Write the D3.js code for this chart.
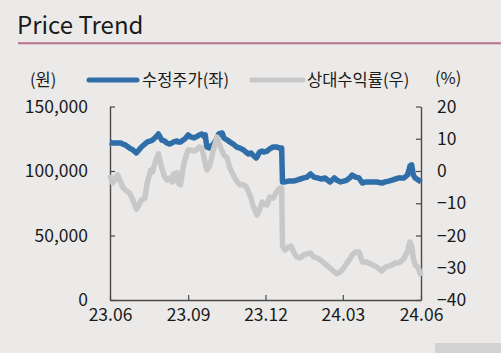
<!DOCTYPE html>
<html>
<head>
<meta charset="utf-8">
<script src="https://cdn.jsdelivr.net/npm/d3@7"></script>
<style>
  body { margin: 0; background: #ebeae8; }
  svg { display: block; font-family: "Noto Sans CJK KR", "Noto Sans", sans-serif; }
</style>
</head>
<body>
<div class="chart"></div>
<script>
// Data
var dates = ["2023-06-01","2023-06-04","2023-06-08","2023-06-10","2023-06-14","2023-06-16","2023-06-19","2023-06-24","2023-06-28",
  "2023-07-02","2023-07-05","2023-07-08","2023-07-12","2023-07-15","2023-07-19","2023-07-21","2023-07-25","2023-07-28",
  "2023-08-01","2023-08-04","2023-08-07","2023-08-10","2023-08-13","2023-08-15","2023-08-19","2023-08-20","2023-08-23","2023-08-26","2023-08-28",
  "2023-09-01","2023-09-04","2023-09-08","2023-09-12","2023-09-14","2023-09-17","2023-09-19","2023-09-21","2023-09-23","2023-09-26","2023-09-28","2023-09-30",
  "2023-10-03","2023-10-05","2023-10-07","2023-10-11","2023-10-13","2023-10-17","2023-10-20","2023-10-24","2023-10-28",
  "2023-11-01","2023-11-05","2023-11-08","2023-11-11","2023-11-14","2023-11-16","2023-11-20","2023-11-21","2023-11-24","2023-11-27","2023-11-29",
  "2023-12-03","2023-12-06","2023-12-10","2023-12-14","2023-12-18","2023-12-20","2023-12-21","2023-12-24","2023-12-28","2023-12-31",
  "2024-01-03","2024-01-07","2024-01-11","2024-01-15","2024-01-19","2024-01-23","2024-01-27","2024-01-31",
  "2024-02-05","2024-02-09","2024-02-15","2024-02-20","2024-02-23","2024-02-27",
  "2024-03-02","2024-03-06","2024-03-10","2024-03-12","2024-03-16","2024-03-20","2024-03-24","2024-03-28","2024-03-31",
  "2024-04-05","2024-04-10","2024-04-16","2024-04-20","2024-04-24","2024-04-28",
  "2024-05-02","2024-05-06","2024-05-09","2024-05-12","2024-05-16","2024-05-18","2024-05-19","2024-05-21","2024-05-23","2024-05-25","2024-05-29",
  "2024-06-01"];

// 수정주가 (원), left axis
var price = [122500,121700,121700,121700,121700,120900,120200,117800,116300,
  114000,116300,118600,120900,122500,123300,124000,126400,128700,
  124000,123300,121700,120900,121700,122500,123300,122500,122500,124000,124800,
  127900,126400,125600,127100,127900,128700,127100,127900,118600,117800,119400,120200,
  123300,125600,128700,129500,125600,124000,122500,120900,118600,
  117800,116300,114700,113200,114000,112400,110100,110900,114700,115500,114700,
  115500,117100,118600,118600,117800,117800,91500,91500,92200,92200,
  92200,93000,93800,94600,95300,97700,95300,94600,
  93800,94600,91500,94600,93000,91500,
  92200,93000,95300,96900,95300,94600,90700,91500,91500,
  91500,91500,90700,91500,92200,93000,
  93800,94600,94600,94600,96900,100800,103900,104700,96900,94600,93000,
  91500];

// 상대수익률 (%), right axis
var relReturn = [-1.2,-3.7,-2.2,-1.2,-3.7,-5.0,-5.9,-6.8,-9.0,
  -11.8,-10.5,-9.0,-8.4,-3.4,0.3,-0.3,3.4,5.3,
  0.9,-1.6,-2.8,-2.2,-3.4,-0.9,-0.6,-3.7,-4.3,0.9,3.4,
  6.5,6.5,6.2,6.8,7.4,7.1,5.0,2.5,0.3,1.6,3.4,5.9,
  8.7,10.5,8.7,6.2,5.0,4.0,0.9,-1.2,-3.1,
  -4.3,-4.3,-4.7,-6.5,-8.4,-10.5,-13.0,-13.6,-12.1,-9.6,-10.2,
  -10.5,-8.1,-8.4,-6.5,-5.3,-5.3,-23.3,-24.5,-23.6,-23.3,
  -25.1,-26.7,-27.0,-26.0,-25.7,-25.4,-26.7,-27.0,
  -27.9,-28.8,-30.1,-31.3,-31.9,-31.3,
  -30.1,-28.5,-27.0,-26.0,-25.1,-25.1,-28.2,-28.2,-28.5,
  -29.1,-29.8,-31.0,-29.8,-29.5,-29.1,
  -28.5,-28.5,-27.9,-27.0,-25.1,-22.9,-22.0,-23.3,-27.0,-29.1,-30.1,
  -32.6];

var leftTicks = [0, 50000, 100000, 150000];
var rightTicks = [20, 10, 0, -10, -20, -30, -40];
var xTicks = ["2023-06-01","2023-09-01","2023-12-01","2024-03-01","2024-06-01"];

var width = 501, height = 353;
var margin = {top: 106.5, right: 80, bottom: 53, left: 110};

var parse = d3.timeParse("%Y-%m-%d");
var rows = dates.map(function(d, i) {
  return {date: parse(d), price: price[i], rel: relReturn[i]};
});

var svg = d3.select("div.chart").append("svg")
    .attr("width", width)
    .attr("height", height);

// bottom-right grey corner piece
svg.append("rect")
    .attr("x", 435).attr("y", 343)
    .attr("width", 66).attr("height", 10)
    .attr("fill", "#d3d3d3");

// title
svg.append("text")
    .attr("x", 17).attr("y", 34)
    .attr("font-size", 24)
    .attr("fill", "#1a1a1a")
    .text("Price Trend");

svg.append("line")
    .attr("x1", 18).attr("x2", width)
    .attr("y1", 43.3).attr("y2", 43.3)
    .attr("stroke", "#b9728a")
    .attr("stroke-width", 2);

// scales
var x = d3.scaleTime()
    .domain([parse(xTicks[0]), parse(xTicks[4])])
    .range([margin.left, width - margin.right]);

var yLeft = d3.scaleLinear()
    .domain([0, 150000])
    .range([height - margin.bottom, margin.top]);

var yRight = d3.scaleLinear()
    .domain([-40, 20])
    .range([height - margin.bottom, margin.top]);

var axisColor = "#4a4a4a";
var fmt = d3.format(",");

// axes
var gx = svg.append("g")
    .attr("transform", "translate(0," + (height - margin.bottom) + ")")
    .call(d3.axisBottom(x)
      .tickValues(xTicks.map(parse))
      .tickSize(-5)
      .tickSizeOuter(0)
      .tickFormat(d3.timeFormat("%y.%m")));

var gl = svg.append("g")
    .attr("transform", "translate(" + margin.left + ",0)")
    .call(d3.axisLeft(yLeft)
      .tickValues(leftTicks)
      .tickSize(-5)
      .tickSizeOuter(0)
      .tickFormat(fmt));

var gr = svg.append("g")
    .attr("transform", "translate(" + (width - margin.right) + ",0)")
    .call(d3.axisRight(yRight)
      .tickValues(rightTicks)
      .tickSize(-5)
      .tickSizeOuter(0)
      .tickFormat(function(d) { return d < 0 ? "\u2212" + Math.abs(d) : d; }));

[gx, gl, gr].forEach(function(g) {
  g.select(".domain").attr("stroke", axisColor).attr("stroke-width", 1.4);
  g.selectAll(".tick line").attr("stroke", axisColor).attr("stroke-width", 1.2);
  g.selectAll(".tick text")
    .attr("font-family", "'Noto Sans CJK KR', sans-serif")
    .attr("font-size", 17.5)
    .attr("fill", "#1a1a1a");
});
gx.selectAll(".tick text").attr("y", 9);
gl.selectAll(".tick text").attr("x", -22);
gr.selectAll(".tick text").attr("x", 16);

// lines
var priceLine = d3.line()
    .x(function(d) { return x(d.date); })
    .y(function(d) { return yLeft(d.price); });

var relLine = d3.line()
    .x(function(d) { return x(d.date); })
    .y(function(d) { return yRight(d.rel); });

svg.append("path")
    .datum(rows)
    .attr("d", priceLine)
    .attr("fill", "none")
    .attr("stroke", "#2f6ea8")
    .attr("stroke-width", 5.5)
    .attr("stroke-linejoin", "round");

svg.append("path")
    .datum(rows)
    .attr("d", relLine)
    .attr("fill", "none")
    .attr("stroke", "#c8c8c8")
    .attr("stroke-width", 5.5)
    .attr("stroke-linejoin", "round");

// legend
var legendY = 80;
svg.append("text")
    .attr("x", 30).attr("y", legendY).attr("dy", "0.35em")
    .attr("font-size", 16.5).attr("fill", "#1a1a1a")
    .text("(원)");

svg.append("line")
    .attr("x1", 89).attr("x2", 137)
    .attr("y1", legendY).attr("y2", legendY)
    .attr("stroke", "#2f6ea8").attr("stroke-width", 5)
    .attr("stroke-linecap", "round");
svg.append("text")
    .attr("x", 142).attr("y", legendY).attr("dy", "0.35em")
    .attr("font-size", 16.5).attr("fill", "#1a1a1a")
    .text("수정주가(좌)");

svg.append("line")
    .attr("x1", 252).attr("x2", 303)
    .attr("y1", legendY).attr("y2", legendY)
    .attr("stroke", "#c8c8c8").attr("stroke-width", 5)
    .attr("stroke-linecap", "round");
svg.append("text")
    .attr("x", 307).attr("y", legendY).attr("dy", "0.35em")
    .attr("font-size", 16.5).attr("fill", "#1a1a1a")
    .text("상대수익률(우)");

svg.append("text")
    .attr("x", 435).attr("y", legendY - 2).attr("dy", "0.35em")
    .attr("font-size", 16.5).attr("fill", "#1a1a1a")
    .text("(%)");
</script>
</body>
</html>
